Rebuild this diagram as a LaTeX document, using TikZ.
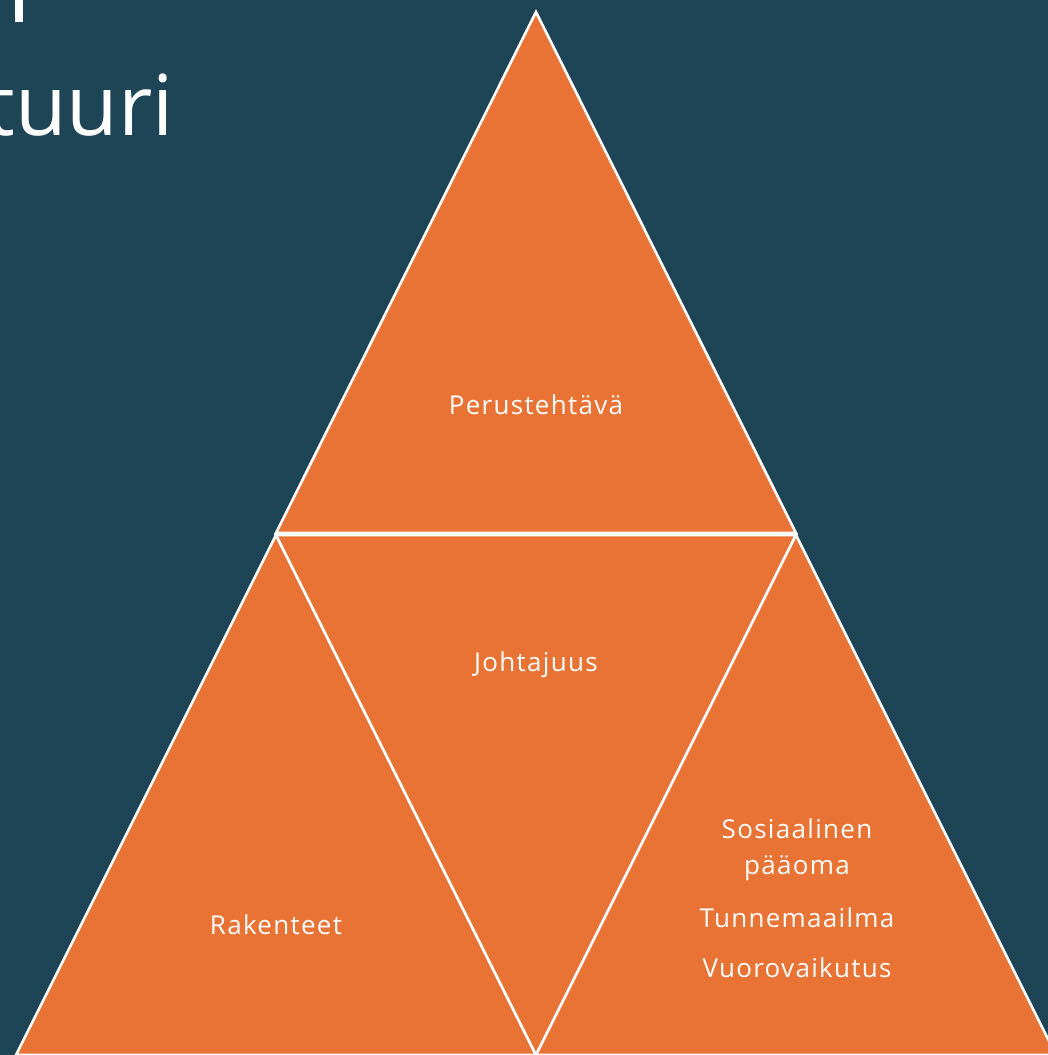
\documentclass[tikz,border=0pt]{standalone}
\usepackage{fontspec}
\setmainfont{Open Sans}
\newfontfamily\lblfont[LetterSpace=5]{Open Sans}
\begin{document}
\begin{tikzpicture}[x=1pt,y=-1pt,
  tri/.style={fill=orangeA,draw=white,line width=2.6pt,line join=miter},
  lbl/.style={text=white,font=\lblfont\fontsize{26}{36}\selectfont,inner sep=0pt,align=center}]
\definecolor{bgteal}{HTML}{1D4556}
\definecolor{orangeA}{HTML}{E97334}
\fill[bgteal] (0,0) rectangle (1048,1055);
\useasboundingbox (0,0) rectangle (1048,1055);
\begin{scope}
\clip (0,0) rectangle (1048,1055);
\draw[tri] (536,12) -- (796,533) -- (276,533) -- cycle;
\draw[tri] (276,535) -- (536,1055) -- (16,1055) -- cycle;
\draw[tri] (276,535) -- (796,535) -- (536,1055) -- cycle;
\draw[tri] (796,535) -- (1056,1055) -- (536,1055) -- cycle;
\fill[white] (15,0) rectangle (23,22);
\end{scope}
\node[text=white,font=\fontsize{84}{90}\selectfont,inner sep=0pt,anchor=base east] (title) at (174,135) {tuuri};
\node[lbl] (perus) at (536,405) {Perustehtävä};
\node[lbl] (johto) at (536,665) {Johtajuus};
\node[lbl] (rak) at (276,925) {Rakenteet};
\node[lbl] (sos) at (797,850) {Sosiaalinen\\pääoma};
\node[lbl] (tunne) at (797,918) {Tunnemaailma};
\node[lbl] (vuoro) at (797,968) {Vuorovaikutus};
\end{tikzpicture}
\end{document}
